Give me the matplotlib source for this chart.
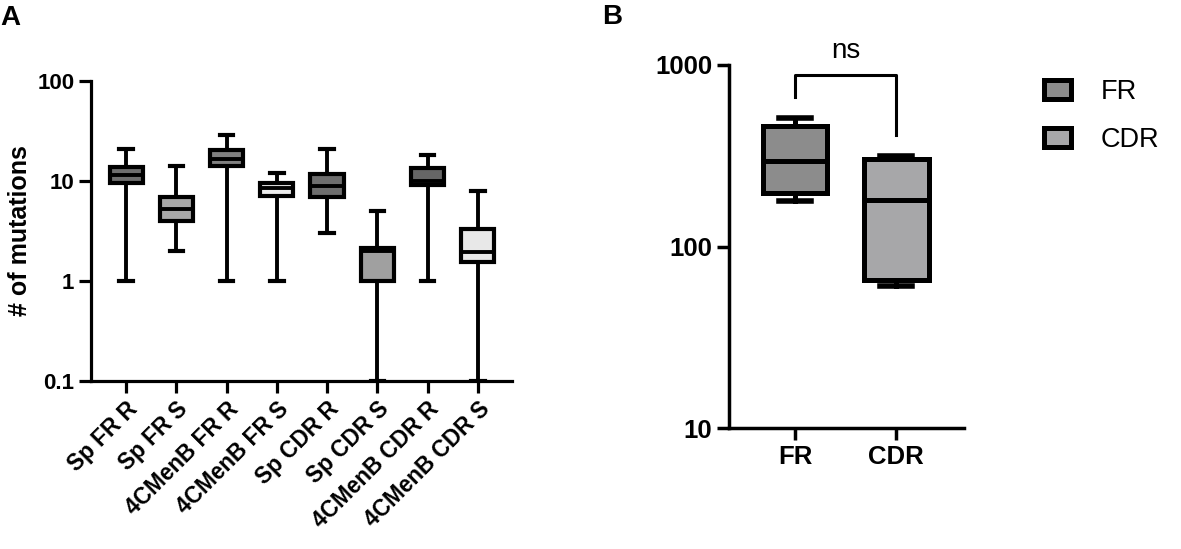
import numpy as np
import matplotlib
matplotlib.use("Agg")
import matplotlib.pyplot as plt
import matplotlib.ticker as ticker
from matplotlib.patches import Patch

plt.rcParams['font.family'] = ['Liberation Sans', 'DejaVu Sans']

# panel A: five-number summaries
groups_a = ['Sp FR R', 'Sp FR S', '4CMenB FR R', '4CMenB FR S',
            'Sp CDR R', 'Sp CDR S', '4CMenB CDR R', '4CMenB CDR S']
lo_a = [1, 2, 1, 1, 3, 0.1, 1, 0.1]
q1_a = [9.6, 4.0, 14.1, 7.1, 6.9, 1.0, 9.2, 1.56]
med_a = [11.5, 5.3, 16.6, 8.5, 8.9, 2.0, 10.0, 1.95]
q3_a = [13.7, 7.0, 20.4, 9.6, 11.7, 2.15, 13.4, 3.3]
hi_a = [21, 14, 29, 12, 21, 5, 18, 8]
colors_a = ['#6e6e6e', '#a8a8a8', '#808080', '#ececec',
            '#6e6e6e', '#a0a0a0', '#666666', '#e8e8e8']

# panel B
groups_b = ['FR', 'CDR']
lo_b = [179, 61]
q1_b = [197, 65.6]
med_b = [297, 181]
q3_b = [461, 303]
hi_b = [509, 316]
colors_b = ['#8c8c8c', '#a7a7a9']
bracket_y = [670, 881, 881, 412]


def stats(labels, lo, q1, med, q3, hi):
    return [dict(label=l, whislo=a, q1=b, med=c, q3=d, whishi=e, fliers=[])
            for l, a, b, c, d, e in zip(labels, lo, q1, med, q3, hi)]


def style_axes(ax, lw):
    for s in ['top', 'right']:
        ax.spines[s].set_visible(False)
    for s in ['left', 'bottom']:
        ax.spines[s].set_linewidth(lw)
    ax.tick_params(width=lw, length=8.5, direction='out')
    ax.yaxis.set_minor_locator(ticker.NullLocator())


fig = plt.figure(figsize=(11.81, 5.49), dpi=100)

# ---- A ----
axA = fig.add_axes([0.077, 0.306, 0.3565, 0.5464])
bp = axA.bxp(stats(groups_a, lo_a, q1_a, med_a, q3_a, hi_a),
             positions=np.arange(len(groups_a)), widths=0.66,
             patch_artist=True, showfliers=False,
             boxprops=dict(linewidth=3.0, edgecolor='black'),
             whiskerprops=dict(linewidth=2.8, color='black'),
             capprops=dict(linewidth=3.0, color='black'),
             medianprops=dict(linewidth=2.8, color='black'),
             capwidths=0.27)
for box, c in zip(bp['boxes'], colors_a):
    box.set_facecolor(c)
axA.set_yscale('log')
axA.set_ylim(0.1, 100)
axA.set_xlim(-0.7, 7.68)
axA.yaxis.set_major_locator(ticker.FixedLocator([0.1, 1, 10, 100]))
axA.yaxis.set_major_formatter(ticker.FixedFormatter(['0.1', '1', '10', '100']))
style_axes(axA, 2.3)
axA.set_xticks(np.arange(len(groups_a)))
axA.set_xticklabels(groups_a, rotation=45, ha='right', rotation_mode='anchor',
                    fontsize=16.3, fontweight='bold')
for t in axA.get_yticklabels():
    t.set_fontsize(16)
    t.set_fontweight('bold')
axA.set_ylabel('# of mutations', fontsize=18, fontweight='bold', labelpad=4)

# ---- B ----
axB = fig.add_axes([0.6173, 0.2199, 0.199, 0.6618])
bp2 = axB.bxp(stats(groups_b, lo_b, q1_b, med_b, q3_b, hi_b),
              positions=[0, 1], widths=0.64,
              patch_artist=True, showfliers=False,
              boxprops=dict(linewidth=3.6, edgecolor='black'),
              whiskerprops=dict(linewidth=3.6, color='black'),
              capprops=dict(linewidth=4.0, color='black'),
              medianprops=dict(linewidth=3.6, color='black'),
              capwidths=0.32)
for box, c in zip(bp2['boxes'], colors_b):
    box.set_facecolor(c)
axB.set_yscale('log')
axB.set_ylim(10, 1000)
axB.set_xlim(-0.653, 1.67)
axB.yaxis.set_major_locator(ticker.FixedLocator([10, 100, 1000]))
axB.yaxis.set_major_formatter(ticker.FixedFormatter(['10', '100', '1000']))
style_axes(axB, 2.5)
axB.set_xticks([0, 1])
axB.set_xticklabels(groups_b, fontsize=18.5, fontweight='bold')
for t in axB.get_yticklabels():
    t.set_fontsize(18.5)
    t.set_fontweight('bold')

axB.plot([0, 0, 1, 1], bracket_y, color='black', lw=2.2, clip_on=False)
axB.text(0.5, 1093, 'ns', ha='center', va='baseline', fontsize=20, clip_on=False)

handles = [Patch(facecolor=c, edgecolor='black', linewidth=3.6) for c in colors_b]
fig.legend(handles, groups_b, loc='upper left', bbox_to_anchor=(0.8635, 0.901),
           frameon=False, fontsize=19.5, handlelength=1.0, handleheight=0.72,
           handletextpad=1.1, labelspacing=0.82)

fig.text(0.0, 1 - 25 / 549, 'A', fontsize=20, fontweight='bold', va='baseline')
fig.text(602 / 1181, 1 - 24 / 549, 'B', fontsize=20, fontweight='bold', va='baseline')

fig.savefig('out.png', dpi=100)
